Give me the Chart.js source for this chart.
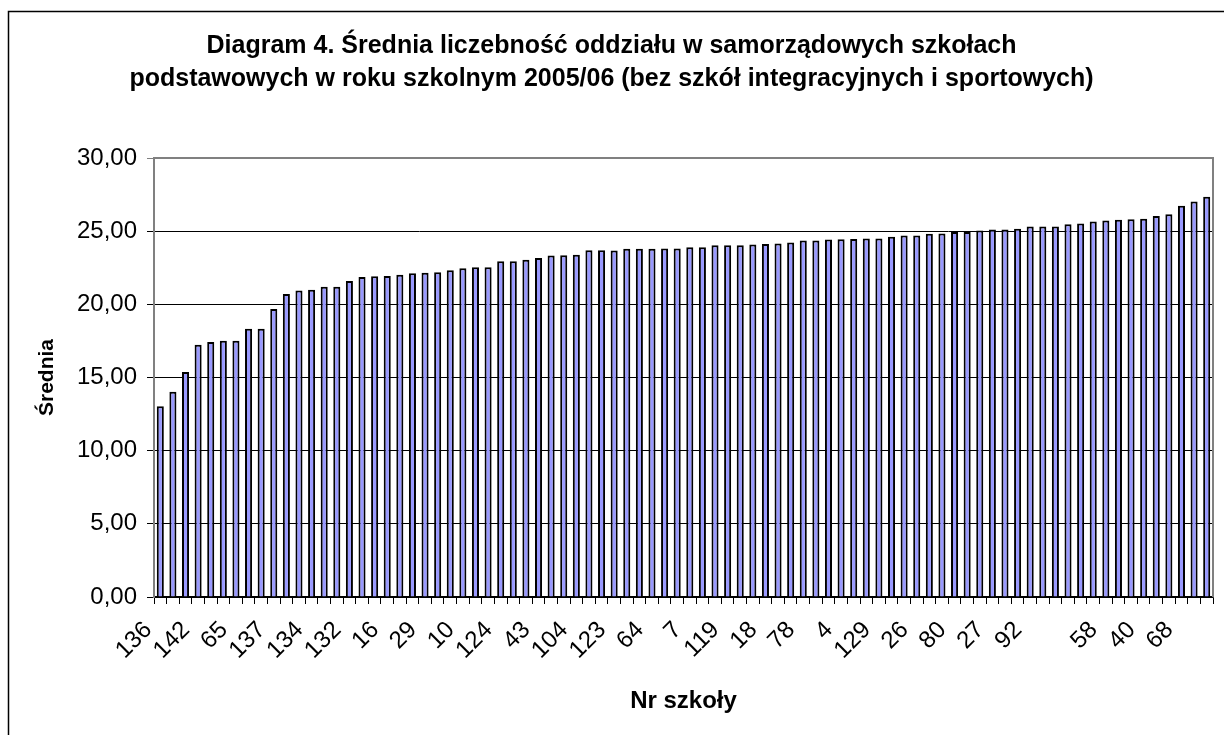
<!DOCTYPE html>
<html lang="pl">
<head>
<meta charset="utf-8">
<script src="https://cdn.jsdelivr.net/npm/chart.js@4"></script>
<style>
  html, body { margin:0; padding:0; background:#fff; }
  #wrap { width:1224px; height:735px; position:relative; }
</style>
</head>
<body>
<div id="wrap"><canvas id="chart" width="1224" height="735"></canvas></div>
<script>
// school numbers (only every third one is printed under the axis)
const SCHOOLS = [
  '136','','','142','','','65','','','137','','','134','','','132','','','16','','','29','','',
  '10','','','124','','','43','','','104','','','123','','','64','','','7','','','119','','',
  '18','','','78','','','4','','','129','','','26','','','80','','','27','','','92','','',
  '','','','58','','','40','','','68','',''
];
const AVERAGES = [
  13.04, 14.02, 15.37, 17.24, 17.42, 17.51, 17.51, 18.33, 18.33, 19.68,
  20.71, 20.94, 21.00, 21.21, 21.21, 21.60, 21.87, 21.92, 21.94, 22.03,
  22.12, 22.15, 22.19, 22.33, 22.47, 22.53, 22.53, 22.95, 22.95, 23.04,
  23.17, 23.33, 23.36, 23.38, 23.70, 23.70, 23.68, 23.79, 23.79, 23.79,
  23.81, 23.81, 23.90, 23.90, 24.04, 24.04, 24.04, 24.09, 24.13, 24.16,
  24.22, 24.36, 24.36, 24.43, 24.45, 24.47, 24.50, 24.50, 24.61, 24.70,
  24.70, 24.82, 24.84, 24.95, 24.95, 25.05, 25.11, 25.11, 25.16, 25.32,
  25.32, 25.32, 25.48, 25.53, 25.66, 25.73, 25.78, 25.82, 25.84, 26.03,
  26.16, 26.74, 27.03, 27.35
];
const TITLE_LINES = [
  'Diagram 4. Średnia liczebność oddziału w samorządowych szkołach',
  'podstawowych w roku szkolnym 2005/06 (bez szkół integracyjnych i sportowych)'
];
const Y_TICKS = { min:0, max:30, step:5 };

const FONT = 'Arial, "Liberation Sans", sans-serif';

// white background, outer frame and the grey plot-area border (top + right)
const frame = {
  id:'frame',
  beforeDraw(c) {
    const ctx = c.ctx;
    ctx.save();
    ctx.fillStyle = '#fff';
    ctx.fillRect(0,0,c.width,c.height);
    ctx.strokeStyle = '#000';
    ctx.lineWidth = 1.5;
    ctx.strokeRect(8.5, 11.5, 1300, 800);
    ctx.restore();
  },
  afterDraw(c) {
    const a = c.chartArea, ctx = c.ctx;
    ctx.save();
    ctx.strokeStyle = '#808080';
    ctx.lineWidth = 2;
    ctx.beginPath();
    ctx.moveTo(a.left, a.top);
    ctx.lineTo(a.right, a.top);
    ctx.lineTo(a.right, a.bottom);
    ctx.stroke();
    ctx.restore();
  }
};

new Chart(document.getElementById('chart'), {
  type:'bar',
  data:{
    labels: SCHOOLS,
    datasets:[{
      data: AVERAGES,
      backgroundColor:'#9999ff',
      borderColor:'#000',
      borderWidth:2,
      barPercentage:0.56,
      categoryPercentage:1.0,
    }]
  },
  options:{
    responsive:false, animation:false,
    layout:{ padding:{ left:10, right:11, top:0, bottom:0 } },
    plugins:{
      legend:{ display:false },
      tooltip:{ enabled:false },
      title:{
        display:true, text:TITLE_LINES, color:'#000',
        font:{ family:FONT, size:25, weight:'bold', lineHeight:'33px' },
        padding:{ top:30, bottom:62 }
      }
    },
    scales:{
      x:{
        offset:true,
        grid:{ display:true, drawOnChartArea:false, offset:true, tickLength:7, color:'#000' },
        border:{ color:'#000', width:1.5 },
        ticks:{
          autoSkip:false, maxRotation:45, minRotation:45,
          color:'#000', font:{ family:FONT, size:24 }, padding:12, labelOffset:-12
        },
        title:{ display:true, text:'Nr szkoły', color:'#000',
          font:{ family:FONT, size:24, weight:'bold' }, padding:{ top:0, bottom:19 } },
        afterFit(s) { s.height = 138; s.paddingLeft = 0; s.paddingRight = 0; }
      },
      y:{
        min:Y_TICKS.min, max:Y_TICKS.max,
        grid:{
          tickLength:7,
          color: ctx => (ctx.tick && (ctx.tick.value === Y_TICKS.max)) ? '#808080' : '#000'
        },
        border:{ color:'#808080', width:2 },
        ticks:{
          stepSize:Y_TICKS.step, color:'#000', padding:10,
          font:{ family:FONT, size:24 },
          callback: v => v.toFixed(2).replace('.', ',')
        },
        title:{ display:true, text:'Średnia', color:'#000',
          font:{ family:FONT, size:21, weight:'bold' }, padding:{ top:25, bottom:0 } },
        afterFit(s) { s.width = 144; }
      }
    }
  },
  plugins:[frame]
});
</script>
</body>
</html>
